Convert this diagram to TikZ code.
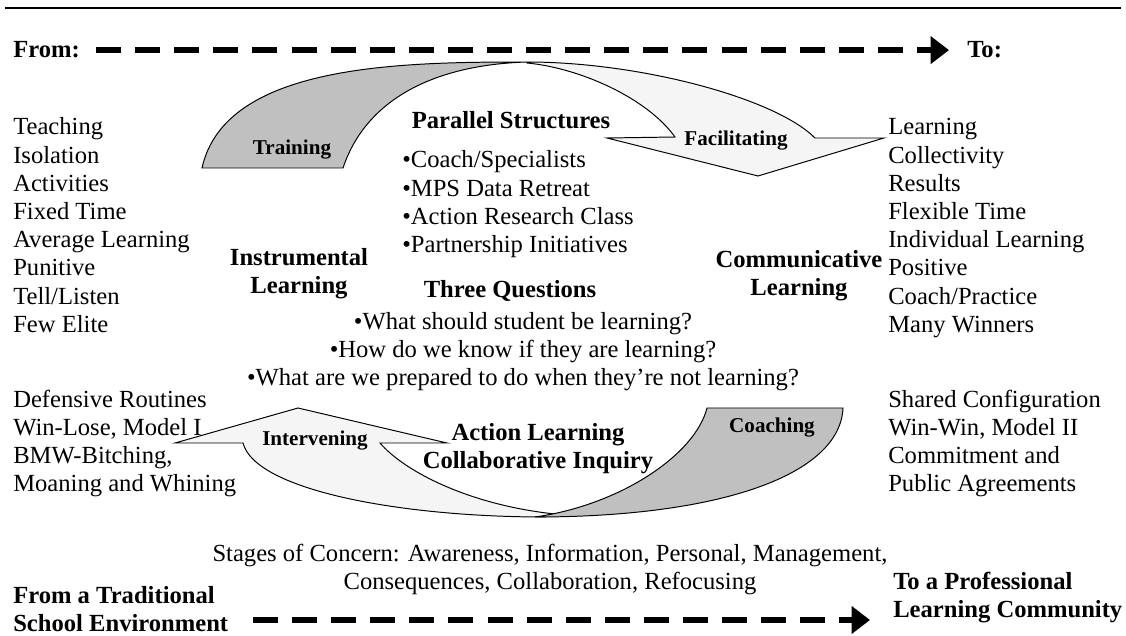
\documentclass[tikz,border=0pt]{standalone}
\usepackage{fontspec}
\setmainfont{Liberation Serif}
\usetikzlibrary{arrows.meta}
\usetikzlibrary{positioning}

\definecolor{bandgray}{RGB}{192,192,192}
\definecolor{bandlight}{RGB}{245,245,245}

\begin{document}
\begin{tikzpicture}[
    x=0.025cm, y=-0.025cm,
    font=\fontsize{17.5}{19.9}\selectfont
]
\tikzset{
    item/.style = {anchor=base west, inner sep=0pt},
    mid/.style = {anchor=base, inner sep=0pt},
    head/.style = {align=center, inner sep=0pt, font=\fontsize{17.5}{19.9}\selectfont\bfseries},
    lbl/.style = {inner sep=0pt, font=\fontsize{15}{17}\selectfont\bfseries},
    bandg/.style = {draw=black, line width=0.7pt, fill=bandgray},
    bandl/.style = {draw=black, line width=0.7pt, fill=bandlight},
    flow/.style = {line width=4.3pt, dash pattern=on 17.8pt off 10pt,
                   -{Triangle[length=13pt,width=19pt]}}
}
\useasboundingbox (0,0) rectangle (1126,636);
\draw[line width=1.4pt] (5,8) -- (1121,8);

\node[item, font=\fontsize{17.5}{19.9}\selectfont\bfseries] (from) at (13,58) {From:};
\node[item, font=\fontsize{17.5}{19.9}\selectfont\bfseries] (to) at (967,58) {To:};
\draw[flow, shorten <=0.4cm, shorten >=0.45cm] (from.east) -- (to.west);

\draw[bandl] (527,62) .. controls (640,62) and (775,98) .. (815,138) -- (884,138)
    -- (758,176) -- (607,138) -- (675,137) .. controls (647,98) and (580,68) .. (527,63) -- cycle;
\draw[bandg] (202,168) .. controls (225,64) and (400,62) .. (527,62)
    .. controls (430,65) and (365,102) .. (343,168) -- cycle;

\draw[bandl] (545,517) .. controls (400,517) and (255,490) .. (243,443) -- (175,443)
    -- (298,408) -- (447,443) -- (380,443) .. controls (405,472) and (470,505) .. (555,514) -- cycle;
\draw[bandg] (707,408) -- (843,408) .. controls (840,475) and (720,517) .. (535,517)
    .. controls (620,505) and (695,455) .. (707,408) -- cycle;

\node[lbl] (training) at (292,150) {Training};
\node[lbl] (facilitating) at (736,141) {Facilitating};
\node[lbl] (intervening) at (315,441) {Intervening};
\node[lbl] (coaching) at (772,428) {Coaching};

\foreach \txt [count=\i] in {Teaching, Isolation, Activities, Fixed Time,
    Average Learning, Punitive, Tell/Listen, Few Elite}
    \node[item] (old\i) at (13, {135+28.2*(\i-1)}) {\txt};
\foreach \txt [count=\i] in {Learning, Collectivity, Results, Flexible Time,
    Individual Learning, Positive, Coach/Practice, Many Winners}
    \node[item] (new\i) at (888, {135+28.2*(\i-1)}) {\txt};
\foreach \txt [count=\i] in {Defensive Routines, {Win-Lose, Model I},
    {BMW-Bitching,}, Moaning and Whining}
    \node[item] (oldroutine\i) at (13, {407+28.2*(\i-1)}) {\txt};
\foreach \txt [count=\i] in {Shared Configuration, {Win-Win, Model II},
    Commitment and, Public Agreements}
    \node[item] (newroutine\i) at (888, {407+28.2*(\i-1)}) {\txt};

\node[head] (parallel) at (511,120) {Parallel Structures};
\foreach \txt [count=\i] in {Coach/Specialists, MPS Data Retreat,
    Action Research Class, Partnership Initiatives}
    \node[item] (struct\i) at (402, {168+28.2*(\i-1)}) {\textbullet\txt};

\node[head] (instrumental) at (299,274) {Instrumental\\Learning};
\node[head] (communicative) at (799,276) {Communicative\\Learning};
\node[head] (three) at (510,291) {Three Questions};
\node[mid] (q1) at (523,330) {\textbullet What should student be learning?};
\node[mid] (q2) at (523,358) {\textbullet How do we know if they are learning?};
\node[mid] (q3) at (523,386) {\textbullet What are we prepared to do when they’re not learning?};
\node[head] (action) at (538,449) {Action Learning\\Collaborative Inquiry};

\node[align=center, inner sep=0pt] (stages) at (550,569)
    {Stages of Concern: Awareness, Information, Personal, Management,\\
     Consequences, Collaboration, Refocusing};
\node[head, align=left, anchor=west] (traditional) at (13,609)
    {From a Traditional\\School Environment};
\node[head, align=left, anchor=west] (community) at (893,598)
    {To a Professional\\Learning Community};
\coordinate (flowstart) at (253,620);
\coordinate (flowend) at (870,620);
\draw[flow] (flowstart) -- (flowend);
\end{tikzpicture}
\end{document}
